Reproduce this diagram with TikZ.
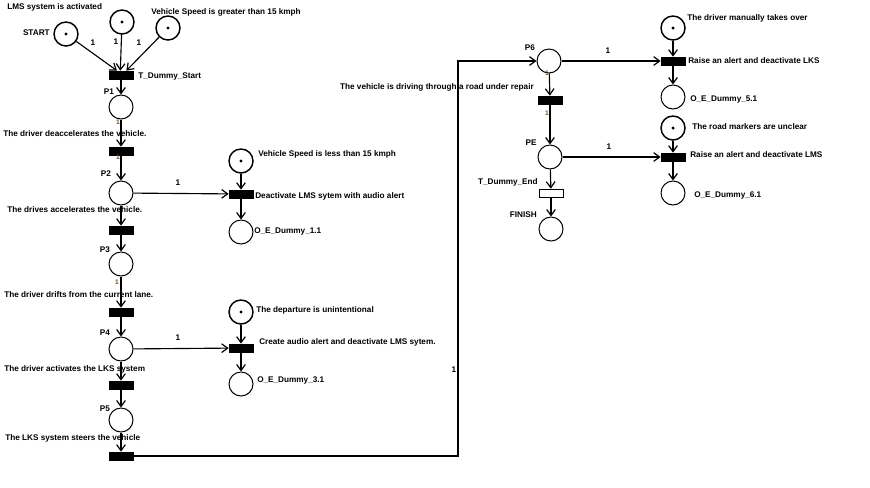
\documentclass[tikz,border=0pt]{standalone}
\usepackage{fontspec}
\setmainfont{Liberation Sans}
\usetikzlibrary{arrows.meta}
\tikzset{
place/.style={circle,draw,line width=0.75pt,minimum size=18pt,inner sep=0pt},
token/.style={place,line width=1.1pt,path picture={\fill (path picture bounding box.center) circle (1.3pt);}},
trans/.style={draw,fill=black,line width=0.5pt,minimum width=18pt,minimum height=6pt,inner sep=0pt},
arc/.style={line width=0.85pt,-{Straight Barb[length=4.5pt,width=6.5pt,line width=0.9pt]}},
lbl/.style={font=\fontsize{6.15}{7.5}\selectfont\bfseries,inner sep=0pt},
wsmall/.style={font=\fontsize{5}{6}\selectfont\bfseries,text=brown!60!black,inner sep=0pt}
}
\begin{document}
\begin{tikzpicture}[x=0.75pt,y=-0.75pt]
\useasboundingbox(0,0)rectangle(870,487);
% left column
\node[token](start)at(66,34){};
\node[token](lms)at(122,22){};
\node[token](vsg)at(168,28){};
\foreach \n/\y in {p1/107,p2/193,p3/264,p4/349,p5/420}\node[place](\n)at(121,\y){};
\foreach \n/\y in {ts/75,t1/151,t2/230,t3/312,t4/385,t5/456}\node[trans](\n)at(121,\y){};
\foreach \a/\b in {ts/p1,p1/t1,t1/p2,p2/t2,t2/p3,p3/t3,t3/p4,p4/t4,t4/p5,p5/t5}\draw[arc](\a)--(\b);
\draw[arc](start)--([xshift=-3pt]ts.north);
\draw[arc](lms)--([xshift=-0.5pt]ts.north);
\draw[arc](vsg)--([xshift=4pt]ts.north);
% middle column
\node[token](vsl)at(241,161){};
\node[trans](tdeact)at(241,194){};
\node[place](oe1)at(241,232){};
\node[token](dep)at(241,312){};
\node[trans](tcreate)at(241,348){};
\node[place](oe3)at(241,384){};
\draw[arc](p2)--(tdeact);\draw[arc](vsl)--(tdeact);\draw[arc](tdeact)--(oe1);
\draw[arc](p4)--(tcreate);\draw[arc](dep)--(tcreate);\draw[arc](tcreate)--(oe3);
% right part
\node[place](p6)at(549,61){};
\node[trans](trep)at(550,100){};
\node[place](pe)at(550,157){};
\node[trans,fill=white](tend)at(551,193){};
\node[place](fin)at(551,229){};
\node[token](man)at(673,28){};
\node[trans](tlks)at(673,61){};
\node[place](oe5)at(673,97){};
\node[token](road)at(673,128){};
\node[trans](tlms)at(673,157){};
\node[place](oe6)at(673,193){};
\foreach \a/\b in {p6/trep,trep/pe,pe/tend,tend/fin,p6/tlks,man/tlks,tlks/oe5,pe/tlms,road/tlms,tlms/oe6}\draw[arc](\a)--(\b);
% texts
\node[lbl,anchor=east](lstart)at(50,33){START};
\node[lbl,anchor=west](llms)at(7,7){LMS system is activated};
\node[lbl,anchor=west](lvsg)at(151,12){Vehicle Speed is greater than 15 kmph};
\node[lbl,anchor=west](lts)at(138,76){T\_Dummy\_Start};
\node[lbl](lp1)at(109,92){P1};
\node[lbl,anchor=west](lt1)at(3,134){The driver deaccelerates the vehicle.};
\node[lbl](lp2)at(106,174){P2};
\node[lbl,anchor=west](lt2)at(7,210){The drives accelerates the vehicle.};
\node[lbl](lp3)at(105,250){P3};
\node[lbl,anchor=west](lt3)at(4,295){The driver drifts from the current lane.};
\node[lbl](lp4)at(105,333){P4};
\node[lbl,anchor=west](lt4)at(4,369){The driver activates the LKS system};
\node[lbl](lp5)at(105,409){P5};
\node[lbl,anchor=west](lt5)at(5,438){The LKS system steers the vehicle};
\node[lbl,anchor=west](lvsl)at(258,154){Vehicle Speed is less than 15 kmph};
\node[lbl,anchor=west](ldeact)at(255,196){Deactivate LMS sytem with audio alert};
\node[lbl,anchor=west](loe1)at(254,231){O\_E\_Dummy\_1.1};
\node[lbl,anchor=west](ldep)at(256,310){The departure is unintentional};
\node[lbl,anchor=west](lcreate)at(259,342){Create audio alert and deactivate LMS sytem.};
\node[lbl,anchor=west](loe3)at(257,380){O\_E\_Dummy\_3.1};
\node[lbl](lp6)at(530,48){P6};
\node[lbl,anchor=east](lrep)at(534,87){The vehicle is driving through a road under repair};
\node[lbl](lpe)at(531,143){PE};
\node[lbl,anchor=east](lend)at(538,182){T\_Dummy\_End};
\node[lbl,anchor=east](lfin)at(537,215){FINISH};
\node[lbl,anchor=west](lman)at(687,18){The driver manually takes over};
\node[lbl,anchor=west](llks)at(688,61){Raise an alert and deactivate LKS};
\node[lbl,anchor=west](loe5)at(690,99){O\_E\_Dummy\_5.1};
\node[lbl,anchor=west](lroad)at(692,127){The road markers are unclear};
\node[lbl,anchor=west](llmsr)at(690,155){Raise an alert and deactivate LMS};
\node[lbl,anchor=west](loe6)at(694,195){O\_E\_Dummy\_6.1};
% weights
\foreach \n/\x/\y in {w1/93/43,w2/116/42,w3/139/43,w4/178/183,w5/178/338,w6/608/51,w7/609/147,w8/454/370}\node[lbl](\n)at(\x,\y){1};
\foreach \n/\x/\y in {s1/118/122,s2/118/157,s3/117/282,s4/547/73,s5/547/113}\node[wsmall](\n)at(\x,\y){1};
% long arc back to P6
\coordinate(bend)at(458,456);
\draw[arc](t5)--(bend)|-(p6);
\end{tikzpicture}
\end{document}
